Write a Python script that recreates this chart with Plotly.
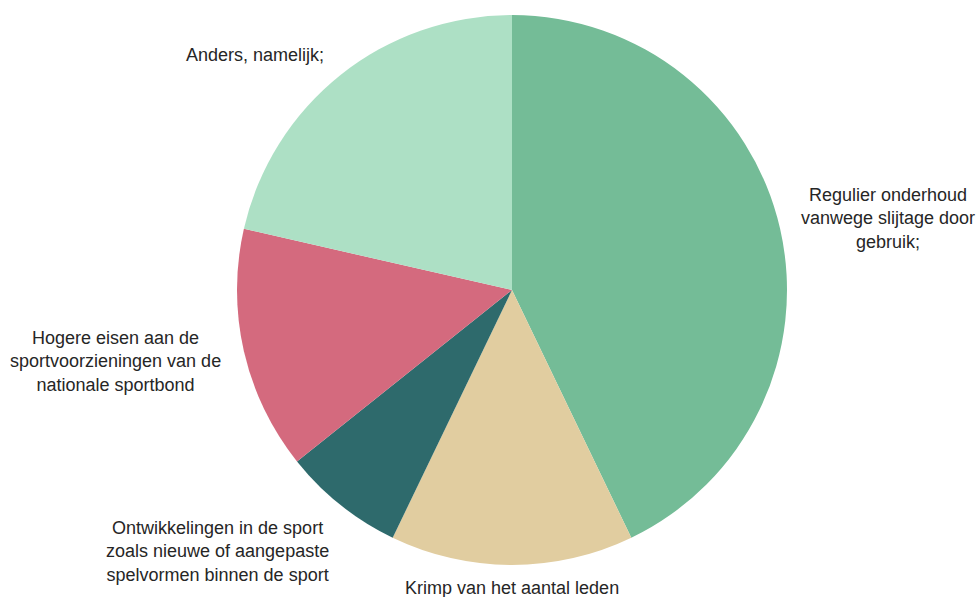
import plotly.graph_objects as go

labels = [
    "Regulier onderhoud<br>vanwege slijtage door<br>gebruik;",
    "Krimp van het aantal leden",
    "Ontwikkelingen in de sport<br>zoals nieuwe of aangepaste<br>spelvormen binnen de sport",
    "Hogere eisen aan de<br>sportvoorzieningen van de<br>nationale sportbond",
    "Anders, namelijk;",
]
values = [30, 10, 5, 10, 15]
colors = ["#74BC97", "#E1CDA0", "#2E6A6C", "#D46A7E", "#ADE0C5"]

# label centres in pixels (x, y from top) of the 979x597 canvas
label_pos = [(888, 218), (512, 588), (217, 551), (115, 361), (255, 55)]

W, H = 979, 597
cx, cy, r = 512, 290, 275

fig = go.Figure(go.Pie(
    values=values,
    labels=labels,
    marker=dict(colors=colors, line=dict(width=0)),
    sort=False,
    direction="clockwise",
    rotation=0,
    textinfo="none",
    hoverinfo="label+percent",
    domain=dict(x=[(cx - r) / W, (cx + r) / W],
                y=[(H - cy - r) / H, (H - cy + r) / H]),
))

for text, (px_, py_) in zip(labels, label_pos):
    fig.add_annotation(
        text=text, x=px_ / W, y=1 - py_ / H, xref="paper", yref="paper",
        showarrow=False, align="center", xanchor="center", yanchor="middle",
        font=dict(family="Liberation Sans, Arial, sans-serif", size=18, color="#262626"),
    )

fig.update_layout(
    width=W, height=H,
    margin=dict(l=0, r=0, t=0, b=0),
    showlegend=False,
    paper_bgcolor="white",
    plot_bgcolor="white",
)

fig.write_html("out.html", config={"displayModeBar": False},
               post_script="document.body.style.margin='0';")
